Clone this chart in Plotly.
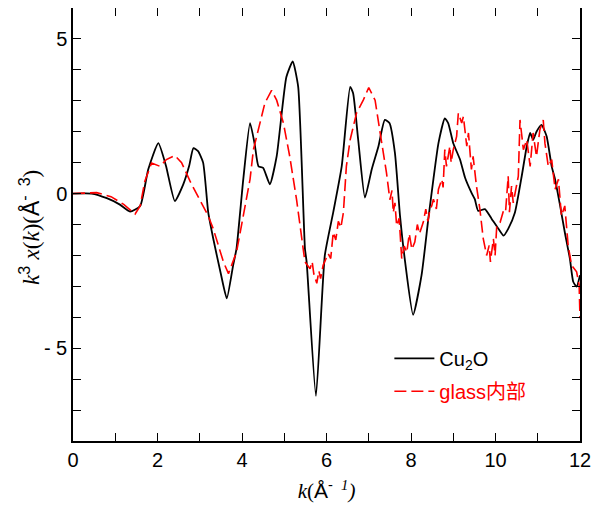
import plotly.graph_objects as go

# Cu2O (black solid)
k_cu2o = [0.0, 0.44, 0.8, 1.1, 1.35, 1.59, 1.78, 2.02, 2.2, 2.41, 2.61, 2.75, 2.85, 2.96, 3.08, 3.2, 3.32,
          3.5, 3.64, 3.79, 3.87, 4.03, 4.19, 4.3, 4.39, 4.5, 4.66, 4.82, 5.05, 5.2, 5.33, 5.49, 5.53,
          5.75, 5.96, 6.16, 6.36, 6.56, 6.63, 6.75, 6.91, 7.07, 7.23, 7.38, 7.49, 7.62, 7.74, 7.86,
          8.05, 8.25, 8.41, 8.53, 8.65, 8.8, 8.88, 9.0, 9.16, 9.28, 9.43, 9.51, 9.59, 9.75, 9.91,
          10.07, 10.19, 10.3, 10.46, 10.62, 10.74, 10.82, 10.89, 10.97, 11.09, 11.21, 11.33, 11.41,
          11.53, 11.64, 11.76, 11.84, 11.92, 12.0]
y_cu2o = [0.0, 0.0, -0.15, -0.35, -0.58, -0.4, 0.78, 1.63, 0.9, -0.24, 0.3, 0.9, 1.47, 1.37, 1.0, -0.6, -1.46,
          -2.6, -3.39, -2.32, -1.78, 0.46, 2.28, 1.6, 0.88, 0.83, 0.3, 1.2, 3.77, 4.27, 3.45, -1.78, -2.21,
          -6.54, -2.0, -0.6, 0.88, 3.45, 3.24, 1.74, -0.13, 0.78, 1.53, 2.38, 2.28, 1.31, -0.72, -2.2,
          -3.92, -2.64, -0.82, 0.46, 1.63, 2.43, 2.28, 1.63, 1.1, 0.51, 0.03, -0.18, -0.56, -0.5, -0.82,
          -1.14, -1.36, -1.14, -0.61, 0.56, 1.53, 1.96, 1.74, 2.0, 2.22, 1.85, 0.88, 0.46,
          -0.4, -1.25, -2.1, -2.85, -3.01, -2.64]

# glass内部 (red dashed)
k_glass = [0.0, 0.56, 0.9, 1.2, 1.47, 1.59, 1.7, 1.86, 2.06, 2.21, 2.41, 2.57, 2.77, 3.0, 3.2, 3.32, 3.56,
           3.68, 3.87, 4.03, 4.19, 4.27, 4.43, 4.54, 4.7, 4.82, 4.98, 5.13, 5.29, 5.41, 5.49, 5.61,
           5.66, 5.7, 5.77, 5.82, 5.86, 5.92, 6.04, 6.1, 6.16, 6.22, 6.28, 6.34, 6.4, 6.47, 6.56, 6.71,
           6.87, 7.0, 7.15, 7.27, 7.42, 7.5, 7.55, 7.58, 7.62, 7.66, 7.72, 7.78, 7.84, 7.9, 7.96, 8.02,
           8.09, 8.15, 8.2, 8.29, 8.35, 8.4, 8.45, 8.49, 8.53, 8.6, 8.65, 8.73, 8.76, 8.8, 8.84, 8.92,
           8.95, 9.0, 9.08, 9.12, 9.2, 9.24, 9.32, 9.36, 9.43, 9.47, 9.55, 9.63, 9.71, 9.79, 9.85, 9.88,
           9.95, 9.99, 10.03, 10.11, 10.2, 10.24, 10.3, 10.33, 10.38, 10.42, 10.5, 10.54, 10.58, 10.66,
           10.74, 10.82, 10.89, 10.97, 11.05, 11.13, 11.17, 11.25, 11.33, 11.41, 11.49, 11.56, 11.64,
           11.72, 11.8, 11.92, 11.98, 12.0]
y_glass = [0.0, 0.03, -0.1, -0.35, -0.66, -0.4, 0.4, 0.99, 0.88, 1.1, 1.23, 1.0, 0.4, -0.18, -0.72, -1.14, -2.21,
           -2.59, -1.89, -0.72, 0.46, 1.42, 2.28, 2.92, 3.34, 3.02, 2.28, 1.2, -0.18, -1.46, -2.21, -2.43,
           -2.2, -2.6, -2.9, -2.5, -2.75, -2.32, -1.94, -2.1, -1.25, -1.5, -0.9, -1.1, -0.61, 0.88, 1.74, 2.6,
           3.02, 3.43, 3.02, 1.96, 0.67, -0.2, 0.1, -0.61, -0.3, -1.04, -0.8, -2.1, -1.7, -1.9, -1.3, -1.8,
           -1.57, -1.0, -1.3, -0.93, -0.5, -0.9, -0.5, -0.4, -0.18, -0.5, 0.14, 0.46, 0.2, 1.42, 0.88, 1.53,
           1.0, 1.42, 1.85, 2.6, 2.28, 2.49, 1.53, 1.96, 0.78, 1.2, 0.24, -0.5, -1.46, -2.0, -1.68, -2.21,
           -1.46, -2.0, -1.04, -0.93, -0.5, -0.55, 0.56, -0.6, 0.24, -0.3, 0.3, 0.56, 2.38, 1.42,
           1.74, 0.88, 1.96, 1.2, 2.06, 2.38, 1.63, 0.88, 1.1, 0.14, 0.46, -0.72, -0.4,
           -1.68, -2.32, -2.53, -2.96, -4.03]

x_tickvals = list(range(0, 13))
x_ticktext = ["0", "", "2", "", "4", "", "6", "", "8", "", "10", "", "12"]
y_tickvals = list(range(-8, 7))
y_ticktext = ["", "", "", "- 5", "", "", "", "", "0", "", "", "", "", "5", ""]

SANS = "Arial, 'Liberation Sans', 'Noto Sans CJK SC', sans-serif"
SERIF_SPAN = "<span style=\"font-family:'Liberation Serif'\">{}</span>"

x_title = (SERIF_SPAN.format("<i>k</i>(") + "Å<sup>-  " + SERIF_SPAN.format("<i>1</i>") + "</sup>"
           + SERIF_SPAN.format("<i>)</i>"))
y_title = (SERIF_SPAN.format("<i>k</i>") + "<sup>3</sup> " + SERIF_SPAN.format("<i>x</i>(<i>k</i>)(")
           + "Å<sup>-  3</sup>" + SERIF_SPAN.format(")"))

fig = go.Figure()
fig.add_trace(go.Scatter(x=k_cu2o, y=y_cu2o, mode="lines", name="Cu<sub>2</sub>O",
                         legendgroup="a",
                         line=dict(color="black", width=1.8, shape="spline", smoothing=0.5)))
fig.add_trace(go.Scatter(x=k_glass, y=y_glass, mode="lines",
                         name="<span style='color:#ff0000'>glass内部</span>",
                         legendgroup="b",
                         line=dict(color="#ff0000", width=1.6, dash="12px,5px")))

axis_common = dict(showline=True, linecolor="black", linewidth=1.5, mirror="ticks",
                   ticks="inside", ticklen=8, tickwidth=1.3, tickcolor="black",
                   showgrid=False, zeroline=False, automargin=False,
                   tickfont=dict(family=SANS, size=20, color="black"))

# The page body has an 8px default margin, so the figure is sized and padded to compensate.
fig.update_layout(
    width=591, height=501,
    margin=dict(l=65, r=19, t=0, b=68),
    paper_bgcolor="white", plot_bgcolor="white",
    font=dict(family=SANS, size=19, color="black"),
    xaxis=dict(range=[0, 12], tickmode="array", tickvals=x_tickvals, ticktext=x_ticktext,
               title=dict(text=x_title, font=dict(family=SANS, size=21), standoff=14),
               **axis_common),
    yaxis=dict(range=[-8, 6], tickmode="array", tickvals=y_tickvals, ticktext=y_ticktext,
               **axis_common),
    annotations=[dict(text=y_title, textangle=-90, xref="paper", yref="paper",
                      x=-0.085, y=0.494, xanchor="center", yanchor="middle",
                      showarrow=False, font=dict(family=SANS, size=23, color="black"))],
    showlegend=True,
    legend=dict(x=0.624, y=0.236, xanchor="left", yanchor="top",
                bgcolor="rgba(0,0,0,0)", borderwidth=0,
                font=dict(family=SANS, size=20, color="black"),
                traceorder="grouped", tracegroupgap=4, itemwidth=40),
)

fig.write_html("out.html")
